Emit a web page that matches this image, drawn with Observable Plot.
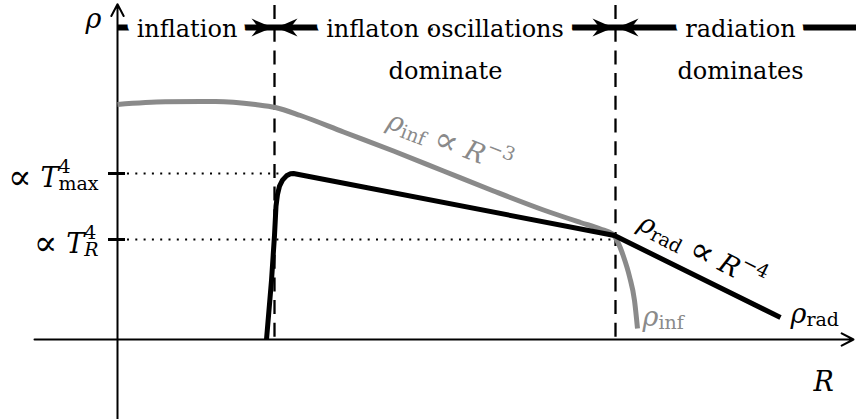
<!DOCTYPE html>
<html><head><meta charset="utf-8">
<script src="https://cdn.jsdelivr.net/npm/d3@7"></script>
<script src="https://cdn.jsdelivr.net/npm/@observablehq/plot@0.6"></script>
<style>html,body{margin:0;padding:0;background:#fff;}</style>
</head><body>
<div id="chart"></div>
<script>
// ---- data (abstract units: R along x, rho along y) ----
const xDomain = [-1.17, 7.39];
const yDomain = [-2.4, 10.17];

// inflaton energy density (grey)
const R_inf   = [0, 0.48, 0.98, 1.38, 1.58, 1.83, 2.26, 2.76, 3.26, 3.76, 4.26, 4.63, 4.83, 4.95, 5.00, 5.06, 5.12, 5.17, 5.20];
const rho_inf = [7.05, 7.13, 7.14, 7.05, 6.96, 6.72, 6.225, 5.655, 5.055, 4.455, 3.885, 3.51, 3.315, 3.165, 2.94, 2.49, 1.89, 1.17, 0.33];

// radiation energy density (black)
const R_rad   = [1.49, 1.54, 1.57, 1.585, 1.60, 1.62, 1.65, 1.69, 1.73, 1.76, 4.97, 5.03, 6.63];
const rho_rad = [0, 1.77, 3.12, 4.00, 4.35, 4.60, 4.78, 4.91, 4.97, 4.98, 3.12, 3.03, 0.66];

// phase boundaries (dashed lines) and phase labels
const phaseBoundaries = [1.57, 4.98];
const phaseBarRho = 9.36;
const phaseLabels = ["inflation", "inflaton oscillations", "radiation"];
const phaseLabelR = [0.695, 3.275, 6.23];
const phaseLabelRho = 9.09;
const phaseSubLabels = ["dominate", "dominates"];
const phaseSubLabelR = [3.28, 6.23];
const phaseSubLabelRho = 7.83;

// y-axis levels (T_max, T_R) with dotted guides
const levelRho = [4.98, 3.0];
const levelGuideEnd = [1.65, 4.97];
const levelLabels = ["∝ T^{4}_{max}", "∝ T^{4}_{R}"];
const levelLabelRho = [4.59, 2.61];

// axes extents
const axisR = [-0.83, 7.36];
const axisRho = [-2.4, 10.06];
const dashTop = 10.02;

// curve annotations
const noteText  = ["ρ_{inf} ∝ R^{−3}", "ρ_{rad} ∝ R^{−4}", "ρ_{inf}", "ρ_{rad}", "ρ", "R"];
const noteR     = [2.68, 5.19, 5.25, 6.73, -0.32, 6.96];
const noteRho   = [6.36, 3.33, 0.42, 0.51, 9.36, -1.53];
const noteAngle = [21, 27, 0, 0, 0, 0];
const noteGrey  = [true, false, true, false, false, false];

// ---- tables built from the arrays ----
const GREY = "#8a8a8a";
const infCurve = R_inf.map((R, i) => ({R, rho: rho_inf[i]}));
const radCurve = R_rad.map((R, i) => ({R, rho: rho_rad[i]}));
const phaseTbl = phaseLabels.map((t, i) => ({t, R: phaseLabelR[i]}));
const phaseSubTbl = phaseSubLabels.map((t, i) => ({t, R: phaseSubLabelR[i]}));
const levelTbl = levelRho.map((rho, i) => ({rho, end: levelGuideEnd[i], label: levelLabels[i], ly: levelLabelRho[i]}));
const notes = noteText.map((t, i) => ({t, R: noteR[i], rho: noteRho[i], a: noteAngle[i], grey: noteGrey[i]}));
const axes = [
  {x1: 0, y1: axisRho[0], x2: 0, y2: axisRho[1]},
  {x1: axisR[0], y1: 0, x2: axisR[1], y2: 0}
];

// stealth arrowheads (tip at the data point)
const L = 23, W = 9, N = 16, K = 0.38;
const headRight = {draw(ctx) {
  ctx.moveTo(0, 0);
  ctx.quadraticCurveTo(-L * 0.5, -W * K, -L, -W);
  ctx.lineTo(-N, 0);
  ctx.lineTo(-L, W);
  ctx.quadraticCurveTo(-L * 0.5, W * K, 0, 0);
  ctx.closePath();
}};
const headLeft = {draw(ctx) {
  ctx.moveTo(0, 0);
  ctx.quadraticCurveTo(L * 0.5, -W * K, L, -W);
  ctx.lineTo(N, 0);
  ctx.lineTo(L, W);
  ctx.quadraticCurveTo(L * 0.5, W * K, 0, 0);
  ctx.closePath();
}};

const mathFont = 27, textFont = 24;

const chart = Plot.plot({
  width: 856, height: 419,
  marginTop: 0, marginRight: 0, marginBottom: 0, marginLeft: 0,
  x: {domain: xDomain, axis: null},
  y: {domain: yDomain, axis: null},
  style: {fontFamily: "'DejaVu Serif', serif", background: "#fff", color: "#000", overflow: "visible"},
  marks: [
    // dotted guides
    Plot.ruleY(levelTbl, {y: "rho", x1: 0.1, x2: "end", stroke: "black", strokeWidth: 2, strokeDasharray: "2,6.3"}),
    // dashed phase boundaries
    Plot.ruleX(phaseBoundaries, {x: d => d, y1: dashTop, y2: 0, stroke: "black", strokeWidth: 2.3, strokeDasharray: "14,8.7"}),
    // axes
    Plot.arrow(axes, {x1: "x1", y1: "y1", x2: "x2", y2: "y2", stroke: "black", strokeWidth: 2, headLength: 10, headAngle: 55}),
    // ticks on rho axis
    Plot.ruleY(levelTbl, {y: "rho", x1: -0.09, x2: 0.08, stroke: "black", strokeWidth: 3}),
    // curves
    Plot.line(infCurve, {x: "R", y: "rho", curve: "monotone-x", stroke: GREY, strokeWidth: 5, strokeLinecap: "butt"}),
    Plot.line(radCurve, {x: "R", y: "rho", curve: "linear", stroke: "black", strokeWidth: 5, strokeLinecap: "butt", strokeLinejoin: "round"}),
    // phase bar
    Plot.ruleY([phaseBarRho], {y: d => d, x1: 0.01, x2: xDomain[1] + 0.2, stroke: "black", strokeWidth: 6}),
    Plot.text(phaseTbl, {x: "R", y: phaseLabelRho, text: "t", fontSize: textFont, lineAnchor: "bottom", textAnchor: "middle",
      fill: "black", stroke: "white", strokeWidth: 20, strokeLinejoin: "round"}),
    Plot.dot(phaseBoundaries, {x: d => d, y: phaseBarRho, symbol: headRight, r: 5, fill: "black", stroke: "none"}),
    Plot.dot(phaseBoundaries, {x: d => d, y: phaseBarRho, symbol: headLeft, r: 5, fill: "black", stroke: "none"}),
    Plot.text(phaseSubTbl, {x: "R", y: phaseSubLabelRho, text: "t", fontSize: textFont, lineAnchor: "bottom", textAnchor: "middle", fill: "black"}),
    // level labels
    Plot.text(levelTbl, {x: -0.19, y: "ly", text: "label", fontSize: mathFont, lineAnchor: "bottom", textAnchor: "end", fill: "black"}),
    // curve annotations
    Plot.text(notes, {x: "R", y: "rho", text: "t", rotate: "a", fontSize: mathFont, lineAnchor: "bottom", textAnchor: "start",
      fill: d => d.grey ? GREY : "black"})
  ]
});

document.getElementById("chart").append(chart);

// ---- render simple math markup (_{..} subscripts, ^{..} superscripts, italic symbols) into tspans ----
const NS = "http://www.w3.org/2000/svg";
const italicRe = /[ρRT]/;
chart.querySelectorAll("text").forEach(t => {
  const src = t.textContent;
  if (!/[_^∝ρ]/.test(src) && src !== "R") return;
  t.textContent = "";
  const fs = mathFont, ss = Math.round(mathFont * 0.7);
  let shift = 0;
  function kind(ch) { return ch === "∝" ? "prop" : italicRe.test(ch) ? "it" : "up"; }
  function emit(str, size, target, dx) {
    const runs = [];
    for (const ch of str) {
      const k = kind(ch);
      if (runs.length && runs[runs.length - 1].k === k) runs[runs.length - 1].s += ch;
      else runs.push({s: ch, k});
    }
    let width = 0, first = true;
    for (const r of runs) {
      const s = document.createElementNS(NS, "tspan");
      s.textContent = r.s;
      const sz = r.k === "prop" ? size * 1.3 : size;
      const tg = r.k === "prop" ? target + 2 : target;
      s.setAttribute("font-size", sz);
      s.setAttribute("font-style", r.k === "it" ? "italic" : "normal");
      if (tg !== shift) { s.setAttribute("dy", tg - shift); shift = tg; }
      if (first && dx) s.setAttribute("dx", dx);
      first = false;
      t.appendChild(s);
      width += s.getComputedTextLength();
    }
    return width;
  }
  let i = 0, buf = "", lastSupWidth = null;
  const flush = () => { if (buf) { emit(buf, fs, 0); buf = ""; } };
  while (i < src.length) {
    const c = src[i];
    if ((c === "_" || c === "^") && src[i + 1] === "{") {
      flush();
      const close = src.indexOf("}", i);
      const content = src.slice(i + 2, close);
      if (c === "^") {
        lastSupWidth = emit(content, ss, -0.5 * fs);
      } else {
        const dx = lastSupWidth != null ? -lastSupWidth : 0;
        emit(content, ss, lastSupWidth != null ? 0.12 * fs : 0.14 * fs, dx);
        lastSupWidth = null;
      }
      i = close + 1;
      continue;
    }
    lastSupWidth = null;
    buf += c;
    i++;
  }
  flush();
});
</script>
</body></html>
